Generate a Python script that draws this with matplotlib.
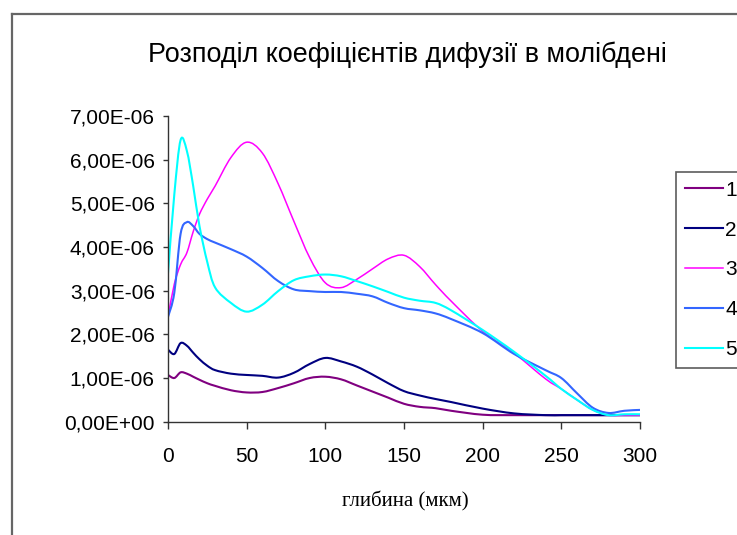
import matplotlib
matplotlib.use("Agg")
import matplotlib.pyplot as plt
from matplotlib.lines import Line2D
from matplotlib.path import Path
from matplotlib.patches import PathPatch
from matplotlib.ticker import FuncFormatter, MultipleLocator

# depth, um
depth = [0, 4, 8, 12, 16, 20, 25, 30, 40, 50, 60, 70, 80, 90, 100, 110, 120,
         130, 140, 150, 160, 170, 180, 200, 220, 240, 250, 260, 270, 280, 290, 300]

# diffusion coefficients, units of 1e-6
d1 = [1.07, 1.00, 1.13, 1.10, 1.03, 0.96, 0.88, 0.82, 0.72, 0.67, 0.68, 0.77,
      0.88, 1.00, 1.03, 0.97, 0.83, 0.69, 0.55, 0.41, 0.34, 0.31, 0.25, 0.16,
      0.15, 0.15, 0.15, 0.15, 0.15, 0.15, 0.15, 0.15]
d2 = [1.65, 1.55, 1.80, 1.74, 1.58, 1.43, 1.28, 1.18, 1.10, 1.07, 1.05, 1.01,
      1.12, 1.32, 1.46, 1.38, 1.26, 1.08, 0.88, 0.70, 0.60, 0.52, 0.45, 0.30,
      0.19, 0.15, 0.15, 0.15, 0.15, 0.15, 0.15, 0.15]
d3 = [2.40, 3.15, 3.60, 3.87, 4.35, 4.75, 5.10, 5.40, 6.05, 6.40, 6.15, 5.45,
      4.59, 3.76, 3.18, 3.07, 3.26, 3.50, 3.73, 3.81, 3.55, 3.14, 2.76, 2.07,
      1.57, 0.98, 0.75, 0.50, 0.27, 0.15, 0.15, 0.15]
d4 = [2.40, 2.95, 4.30, 4.57, 4.48, 4.30, 4.18, 4.10, 3.95, 3.78, 3.52, 3.22,
      3.03, 2.99, 2.97, 2.97, 2.93, 2.87, 2.72, 2.60, 2.55, 2.48, 2.35, 2.03,
      1.55, 1.18, 1.00, 0.65, 0.32, 0.20, 0.25, 0.27]
d5 = [3.40, 5.20, 6.45, 6.20, 5.40, 4.48, 3.65, 3.07, 2.72, 2.52, 2.68, 2.99,
      3.24, 3.33, 3.37, 3.33, 3.22, 3.10, 2.97, 2.84, 2.77, 2.72, 2.55, 2.10,
      1.60, 1.05, 0.75, 0.50, 0.27, 0.15, 0.17, 0.17]

series = [d1, d2, d3, d4, d5]
labels = ["1", "2", "3", "4", "5"]
colors = ["#800080", "#000080", "#FF00FF", "#3366FF", "#00FFFF"]
widths = [1.5, 1.5, 1.1, 1.5, 1.5]

title = "Розподіл коефіцієнтів дифузії в молібдені"
xlabel = "глибина (мкм)"


def smooth_path(xs, ys):
    # Catmull-Rom curve through the points, written as cubic Bezier segments
    pts = list(zip(xs, ys))
    n = len(pts)
    verts = [pts[0]]
    codes = [Path.MOVETO]
    for i in range(n - 1):
        p0 = pts[max(i - 1, 0)]
        p1 = pts[i]
        p2 = pts[i + 1]
        p3 = pts[min(i + 2, n - 1)]
        c1 = (p1[0] + (p2[0] - p0[0]) / 6, p1[1] + (p2[1] - p0[1]) / 6)
        c2 = (p2[0] - (p3[0] - p1[0]) / 6, p2[1] - (p3[1] - p1[1]) / 6)
        verts += [c1, c2, p2]
        codes += [Path.CURVE4] * 3
    return Path(verts, codes)


plt.rcParams["font.family"] = ["Liberation Sans", "DejaVu Sans"]

W, H = 737, 535
fig = plt.figure(figsize=(W / 100, H / 100), dpi=100)
ax = fig.add_axes([168 / W, 1 - 421.7 / H, (640 - 168) / W, (421.7 - 116) / H])

handles = []
for vals, lab, c, lw in zip(series, labels, colors, widths):
    path = smooth_path(depth, [v * 1e-6 for v in vals])
    ax.add_patch(PathPatch(path, fill=False, edgecolor=c, lw=lw, joinstyle="round"))
    handles.append(Line2D([], [], color=c, lw=lw, label=lab))

ax.set_xlim(0, 300)
ax.set_ylim(0, 7e-6)
ax.xaxis.set_major_locator(MultipleLocator(50))
ax.yaxis.set_major_locator(MultipleLocator(1e-6))
ax.yaxis.set_major_formatter(FuncFormatter(lambda v, p: f"{v:.2E}".replace(".", ",")))

for s in ["top", "right"]:
    ax.spines[s].set_visible(False)
for s in ["left", "bottom"]:
    ax.spines[s].set_color("#333333")
    ax.spines[s].set_linewidth(1.0)

ax.tick_params(axis="y", direction="out", length=3.5, width=1.0, color="#333333",
               pad=6, labelsize=15)
ax.tick_params(axis="x", direction="out", length=5, width=1.0, color="#333333",
               pad=13, labelsize=15)

fig.text(407 / W, 1 - 62 / H, title, ha="center", va="baseline", fontsize=19.4)
fig.text(405 / W, 1 - 506 / H, xlabel, ha="center", va="baseline", fontsize=15,
         family=["Liberation Serif", "DejaVu Serif"])

leg = fig.legend(handles=handles, loc="upper left", bbox_to_anchor=(676 / W, 1 - 172 / H),
                 bbox_transform=fig.transFigure, fontsize=15, frameon=True,
                 fancybox=False, handlelength=1.85, handletextpad=0.1,
                 labelspacing=1.0, borderpad=0.42, borderaxespad=0)
leg.get_frame().set_edgecolor("#333333")
leg.get_frame().set_linewidth(1.2)

# chart area border (top and left edges)
fig.add_artist(Line2D([12 / W, 12 / W], [0, 1 - 14 / H], transform=fig.transFigure,
                      color="#666666", lw=1.6))
fig.add_artist(Line2D([12 / W, 1], [1 - 14 / H, 1 - 14 / H], transform=fig.transFigure,
                      color="#666666", lw=1.6))

fig.savefig("out.png", dpi=100)
